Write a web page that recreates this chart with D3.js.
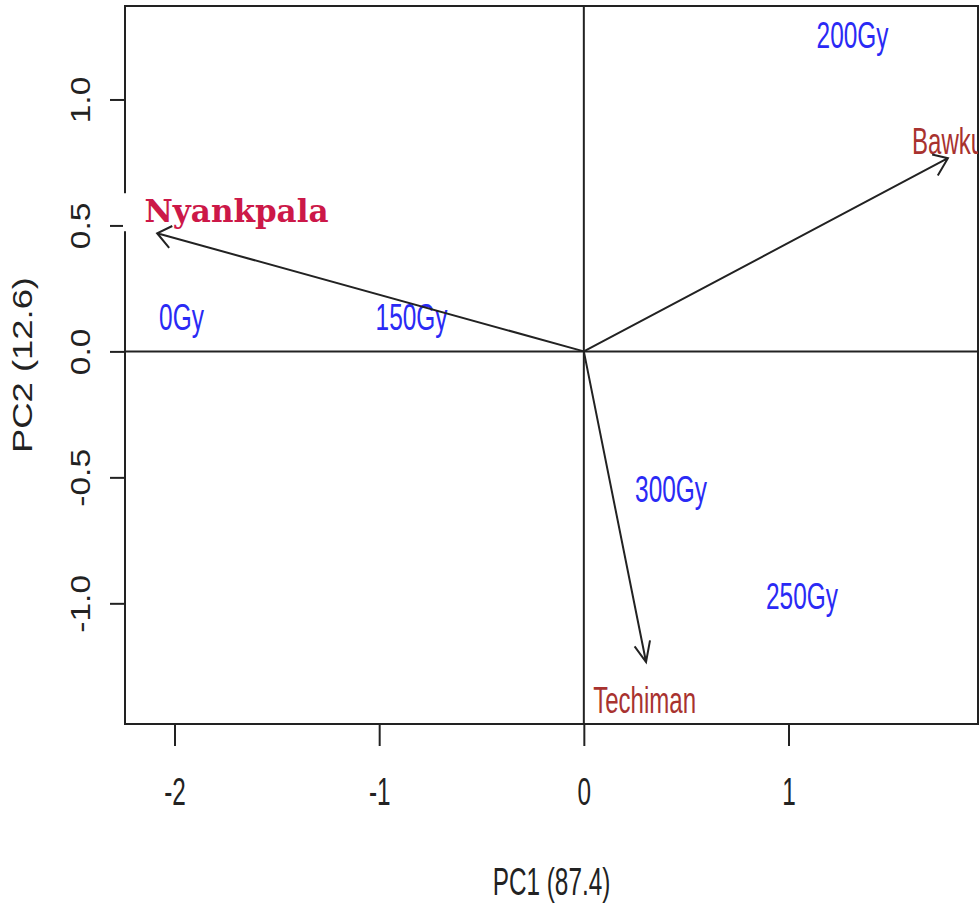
<!DOCTYPE html>
<html>
<head>
<meta charset="utf-8">
<script src="https://cdn.jsdelivr.net/npm/d3@7"></script>
<style>
    html, body { margin: 0; padding: 0; background: #fff; }
    svg { display: block; font-family: "Liberation Sans", Arial, sans-serif; }
</style>
</head>
<body>
<div id="chart"></div>
<script>
// treatment (dose) scores
const treatments = ["0Gy", "150Gy", "200Gy", "250Gy", "300Gy"];
const treatPC1 = [-1.966, -0.842, 1.313, 1.066, 0.426];
const treatPC2 = [0.138, 0.138, 1.259, -0.971, -0.544];

// location loadings (arrows) and where their labels sit
const locations = ["Nyankpala", "Bawku", "Techiman"];
const locPC1 = [-2.085, 1.779, 0.304];
const locPC2 = [0.469, 0.767, -1.233];
const locLabelPC1 = [-1.697, 1.78, 0.297];
const locLabelPC2 = [0.557, 0.838, -1.384];

// axes
const xTicks = [-2, -1, 0, 1];
const yTicks = [-1, -0.5, 0, 0.5, 1];
const xTitle = "PC1 (87.4)";
const yTitle = "PC2 (12.6)";

const svgWidth = 980, svgHeight = 907;
const margin = {top: 6, right: 2, bottom: 183, left: 125};
const width = svgWidth - margin.left - margin.right;
const height = svgHeight - margin.top - margin.bottom;

const blue = "#2a2af5", brown = "#a8322f", ink = "#222";
const squeeze = 0.64;     // horizontal text looks condensed
const vStretch = 1.4;     // used to shape arrow heads

const svg = d3.select("#chart")
    .append("svg")
    .attr("width", svgWidth)
    .attr("height", svgHeight);

const g = svg.append("g")
    .attr("transform", `translate(${margin.left},${margin.top})`);

const x = d3.scaleLinear().domain([-2.242, 1.926]).range([0, width]);
const y = d3.scaleLinear().domain([-1.479, 1.371]).range([height, 0]);

g.append("clipPath").attr("id", "plotClip")
    .append("rect").attr("width", width).attr("height", height);

// x axis
const xAxis = g.append("g")
    .attr("transform", `translate(0,${height})`)
    .call(d3.axisBottom(x).tickValues(xTicks).tickSize(22).tickFormat(d => String(d)));
xAxis.select(".domain").remove();
xAxis.selectAll(".tick line").attr("stroke", ink).attr("stroke-width", 2);
xAxis.selectAll(".tick text")
    .attr("y", 0).attr("dy", null)
    .attr("transform", `translate(0,81) scale(${squeeze},1)`)
    .attr("fill", ink)
    .style("font-size", "38px");

// y axis
const yAxis = g.append("g")
    .call(d3.axisLeft(y).tickValues(yTicks).tickSize(15).tickFormat(d => d.toFixed(1)));
yAxis.select(".domain").remove();
yAxis.selectAll(".tick line").attr("stroke", ink).attr("stroke-width", 2);
yAxis.selectAll(".tick text")
    .attr("x", 0).attr("dy", null)
    .attr("text-anchor", "middle")
    .attr("transform", "translate(-35,0) rotate(-90) scale(1.2,1)")
    .attr("fill", ink)
    .style("font-size", "28px");

// axis titles
svg.append("text")
    .attr("transform", `translate(${margin.left + width / 2},895) scale(${squeeze},1)`)
    .attr("text-anchor", "middle")
    .attr("fill", ink)
    .style("font-size", "38px")
    .text(xTitle);

svg.append("text")
    .attr("transform", `translate(32,${margin.top + height / 2}) rotate(-90) scale(1.3,1)`)
    .attr("text-anchor", "middle")
    .attr("fill", ink)
    .style("font-size", "28px")
    .text(yTitle);

// zero lines
g.append("line")
    .attr("x1", 0).attr("x2", width)
    .attr("y1", y(0)).attr("y2", y(0))
    .attr("stroke", ink).attr("stroke-width", 2);
g.append("line")
    .attr("x1", x(0)).attr("x2", x(0))
    .attr("y1", 0).attr("y2", height)
    .attr("stroke", ink).attr("stroke-width", 2);

// frame
g.append("rect")
    .attr("width", width).attr("height", height)
    .attr("fill", "none")
    .attr("stroke", ink).attr("stroke-width", 2);

const plot = g.append("g").attr("clip-path", "url(#plotClip)");

// treatment labels
plot.selectAll(".treat")
    .data(treatments)
    .enter().append("text")
    .attr("class", "treat")
    .attr("transform", (d, i) => `translate(${x(treatPC1[i])},${y(treatPC2[i])}) scale(0.66,1)`)
    .attr("dy", "0.36em")
    .attr("text-anchor", "middle")
    .attr("fill", blue)
    .style("font-size", "37px")
    .text(d => d);

// Nyankpala label was pasted on a white box
const nyank = g.append("text")
    .attr("x", x(locLabelPC1[0]))
    .attr("y", y(locLabelPC2[0]))
    .attr("dy", "0.36em")
    .attr("text-anchor", "middle")
    .attr("fill", "#cc1848")
    .style("font-family", "'DejaVu Serif', 'Liberation Serif', serif")
    .style("font-weight", "bold")
    .style("font-size", "31px")
    .text(locations[0]);
const bb = nyank.node().getBBox();
g.insert("rect", function() { return nyank.node(); })
    .attr("x", -2).attr("y", bb.y)
    .attr("width", bb.x + bb.width + 8)
    .attr("height", bb.height + 2)
    .attr("fill", "#fff");

// other location labels (Bawku runs past the plot edge and is clipped)
plot.selectAll(".loc")
    .data(locations.slice(1))
    .enter().append("text")
    .attr("class", "loc")
    .attr("transform", (d, i) => `translate(${x(locLabelPC1[i + 1])},${y(locLabelPC2[i + 1])}) scale(0.65,1)`)
    .attr("dy", "0.36em")
    .attr("text-anchor", "middle")
    .attr("fill", brown)
    .style("font-size", "37px")
    .text(d => d);

// arrows from the origin
function arrowPath(i) {
    const x0 = x(0), y0 = y(0);
    const x1 = x(locPC1[i]), y1 = y(locPC2[i]);
    const ang = Math.atan2((y1 - y0) / vStretch, x1 - x0);
    const len = 16, spread = Math.PI / 6;
    const b1 = [x1 - len * Math.cos(ang - spread), y1 - len * Math.sin(ang - spread) * vStretch];
    const b2 = [x1 - len * Math.cos(ang + spread), y1 - len * Math.sin(ang + spread) * vStretch];
    return `M${x0},${y0}L${x1},${y1}M${b1[0]},${b1[1]}L${x1},${y1}L${b2[0]},${b2[1]}`;
}

g.selectAll(".arrow")
    .data(locations)
    .enter().append("path")
    .attr("class", "arrow")
    .attr("d", (d, i) => arrowPath(i))
    .attr("fill", "none")
    .attr("stroke", ink)
    .attr("stroke-width", 2);
</script>
</body>
</html>
